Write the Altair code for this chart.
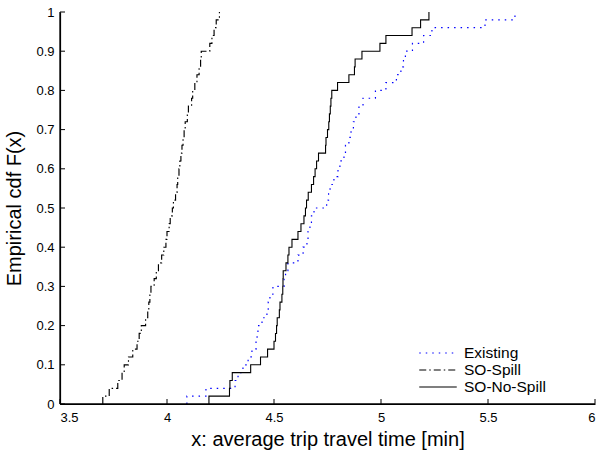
import altair as alt
import pandas as pd

# ---- data (sorted samples read from the empirical CDFs, 50 per series) ----
series_names = ["Existing", "SO-Spill", "SO-No-Spill"]

existing = [4.093, 4.182, 4.318, 4.332, 4.355, 4.379, 4.397, 4.416, 4.421, 4.425,
            4.444, 4.467, 4.473, 4.481, 4.495, 4.547, 4.554, 4.565, 4.612, 4.636,
            4.654, 4.659, 4.668, 4.675, 4.687, 4.746, 4.755, 4.762, 4.780, 4.799,
            4.808, 4.827, 4.834, 4.850, 4.860, 4.871, 4.883, 4.897, 4.916, 4.974,
            5.023, 5.072, 5.093, 5.105, 5.114, 5.147, 5.199, 5.238, 5.486, 5.626]

so_spill = [3.700, 3.730, 3.770, 3.790, 3.800, 3.820, 3.840, 3.860, 3.870, 3.880,
            3.900, 3.910, 3.915, 3.920, 3.925, 3.940, 3.950, 3.960, 3.975, 3.985,
            3.995, 4.000, 4.010, 4.015, 4.025, 4.030, 4.040, 4.047, 4.050, 4.056,
            4.060, 4.065, 4.070, 4.075, 4.080, 4.085, 4.095, 4.100, 4.115, 4.120,
            4.130, 4.140, 4.150, 4.157, 4.160, 4.200, 4.210, 4.220, 4.230, 4.245]

so_no_spill = [4.196, 4.292, 4.294, 4.305, 4.391, 4.437, 4.470, 4.500, 4.507, 4.512,
               4.515, 4.525, 4.528, 4.537, 4.541, 4.542, 4.543, 4.556, 4.565, 4.570,
               4.584, 4.612, 4.626, 4.640, 4.647, 4.652, 4.660, 4.675, 4.685, 4.692,
               4.699, 4.708, 4.741, 4.743, 4.750, 4.756, 4.759, 4.763, 4.766, 4.770,
               4.797, 4.850, 4.876, 4.879, 4.911, 4.995, 5.023, 5.145, 5.185, 5.224]

x_ticks = [3.5, 4, 4.5, 5, 5.5, 6]
y_ticks = [0, 0.1, 0.2, 0.3, 0.4, 0.5, 0.6, 0.7, 0.8, 0.9, 1]

# ---- empirical CDF table ----
rows = []
for name, vals in zip(series_names, [existing, so_spill, so_no_spill]):
    s = sorted(vals)
    n = len(s)
    rows.append({"series": name, "x": s[0], "F": 0.0, "order": 0})
    for k, v in enumerate(s, start=1):
        rows.append({"series": name, "x": v, "F": k / n, "order": k})
df = pd.DataFrame(rows)

W, H = 535, 392
FONT = "Liberation Sans"

xscale = alt.Scale(domain=[3.5, 6], nice=False, zero=False)
yscale = alt.Scale(domain=[0, 1], nice=False, zero=False)

xaxis = alt.Axis(values=x_ticks, format="~g", tickSize=0, grid=False, domain=True,
                 domainColor="#000000", domainWidth=1.2,
                 title="x: average trip travel time [min]",
                 labelPadding=7, titlePadding=5)
yaxis = alt.Axis(values=y_ticks, format="~g", tickSize=0, grid=False, domain=True,
                 domainColor="#000000", domainWidth=1.2,
                 title="Empirical cdf F(x)",
                 labelPadding=6, titlePadding=11)

legend = alt.Legend(
    title=None, orient="none", legendX=369.5, legendY=332.5,
    symbolType="M-2.5,0H2.5", symbolSize=225, symbolStrokeWidth=1.3,
    labelFont=FONT, labelFontSize=15.5, labelColor="black", labelOffset=17.5,
    rowPadding=-1.5, padding=0,
)

lines = alt.Chart(df).mark_line(interpolate="step-after", clip=True).encode(
    x=alt.X("x:Q", scale=xscale, axis=xaxis),
    y=alt.Y("F:Q", scale=yscale, axis=yaxis),
    color=alt.Color("series:N",
                    scale=alt.Scale(domain=series_names,
                                    range=["#0000ff", "#000000", "#000000"]),
                    legend=legend),
    strokeDash=alt.StrokeDash("series:N",
                              scale=alt.Scale(domain=series_names,
                                              range=[[1.5, 5], [7, 3, 1.5, 3], [1, 0]]),
                              legend=legend),
    strokeWidth=alt.StrokeWidth("series:N",
                                scale=alt.Scale(domain=series_names,
                                                range=[1.2, 1.1, 1.6]),
                                legend=None),
    order="order:Q",
)

xtick_marks = alt.Chart(pd.DataFrame({"t": x_ticks})).mark_rule(
    color="black", strokeWidth=1).encode(
    x=alt.X("t:Q", scale=xscale, axis=xaxis),
    y=alt.value(H), y2=alt.value(H - 5),
)
ytick_marks = alt.Chart(pd.DataFrame({"t": y_ticks})).mark_rule(
    color="black", strokeWidth=1).encode(
    y=alt.Y("t:Q", scale=yscale, axis=yaxis),
    x=alt.value(0), x2=alt.value(5),
)
# axis lines (left and bottom only, as in the reference), drawn from the tick ranges
x_domain = alt.Chart(pd.DataFrame({"a": [x_ticks[0]], "b": [x_ticks[-1]], "y0": [0.0]})).mark_rule(
    color="black", strokeWidth=1.3).encode(
    x=alt.X("a:Q", scale=xscale, axis=xaxis), x2="b:Q",
    y=alt.Y("y0:Q", scale=yscale, axis=yaxis),
)
y_domain = alt.Chart(pd.DataFrame({"a": [y_ticks[0]], "b": [y_ticks[-1]], "x0": [x_ticks[0]]})).mark_rule(
    color="black", strokeWidth=1.3).encode(
    y=alt.Y("a:Q", scale=yscale, axis=yaxis), y2="b:Q",
    x=alt.X("x0:Q", scale=xscale, axis=xaxis),
)

chart = alt.layer(lines, xtick_marks, ytick_marks, x_domain, y_domain).properties(
    width=W, height=H,
    autosize=alt.AutoSizeParams(type="none"),
    padding={"left": 60, "top": 12, "right": 4, "bottom": 50},
    background="white",
).configure_view(stroke=None).configure_axis(
    domainColor="black", domainWidth=1.2,
    labelFont=FONT, labelFontSize=13, labelColor="black",
    titleFont=FONT, titleFontSize=20, titleColor="black", titleFontWeight="normal",
)

chart.save("out.html", embed_options={"renderer": "svg", "actions": False})
